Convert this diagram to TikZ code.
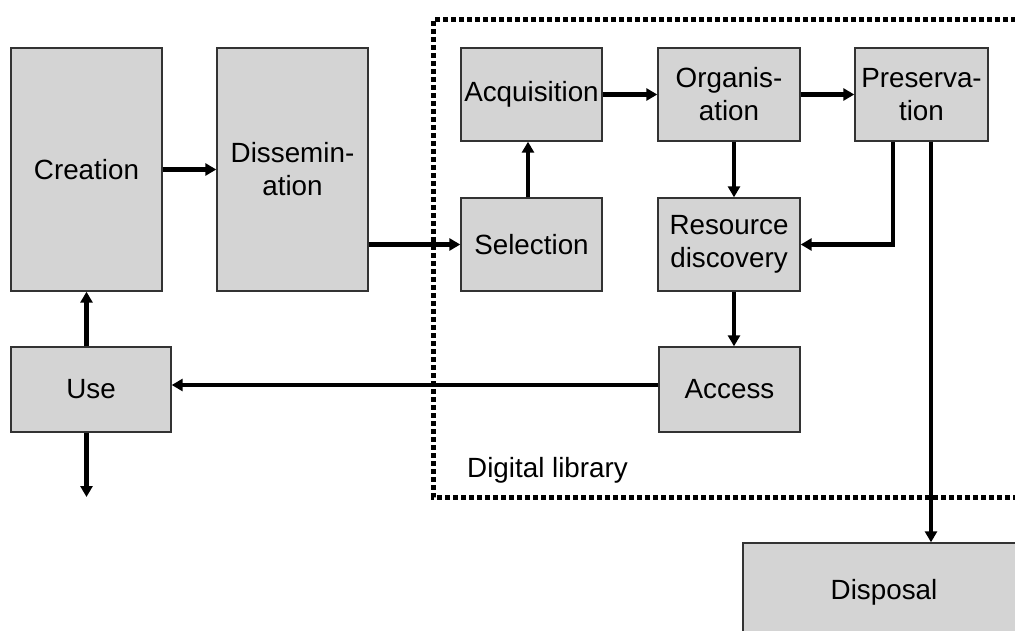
\documentclass[tikz,border=0pt]{standalone}
\usepackage{fontspec}
\setmainfont{Liberation Sans}
\usetikzlibrary{arrows.meta}
\definecolor{boxfill}{RGB}{212,212,212}
\definecolor{boxline}{RGB}{51,51,51}
\tikzset{
  stage/.style={draw=boxline, line width=1.4pt, fill=boxfill, align=center,
    inner sep=0pt, font=\fontsize{27.8}{33}\selectfont},
  flow/.style={line width=4.2pt, -{Triangle[length=11pt,width=12pt]}},
  libframe/.style={line width=5pt, dash pattern=on 5pt off 3pt},
}
\begin{document}
\begin{tikzpicture}[x=1pt,y=-1pt]
\clip (0,0) rectangle (1015,631);
\fill[white] (0,0) rectangle (1015,631);

% digital library boundary (open to the right)
\draw[libframe] (1040,20) -| (433,497) -- (1040,497);
\node[anchor=base west, font=\fontsize{27.8}{33}\selectfont, inner sep=0pt] (dl) at (467,477) {Digital library};

% stages
\node[stage, minimum width=151pt, minimum height=243pt] (cre) at (86.5,169.5) {Creation};
\node[stage, minimum width=151pt, minimum height=243pt] (dis) at (292.5,169.5) {Dissemin-\\ation};
\node[stage, minimum width=141pt, minimum height=93pt] (acq) at (531.5,94.5) {Acquisition};
\node[stage, minimum width=142pt, minimum height=93pt] (org) at (729,94.5) {Organis-\\ation};
\node[stage, minimum width=133pt, minimum height=93pt] (pre) at (921.5,94.5) {Preserva-\\tion};
\node[stage, minimum width=141pt, minimum height=93pt] (sel) at (531.5,244.5) {Selection};
\node[stage, minimum width=142pt, minimum height=93pt] (res) at (729,244.5) {Resource\\discovery};
\node[stage, minimum width=141pt, minimum height=85pt] (acc) at (729.5,389.5) {Access};
\node[stage, minimum width=160pt, minimum height=85pt] (use) at (91,389.5) {Use};
\node[stage, minimum width=282pt, minimum height=98pt] (disp) at (884,592) {Disposal};

\coordinate (out) at (86.5,497);

% flows
\draw[flow] (cre.east) -- (dis.west);
\draw[flow] (dis.east |- sel.west) -- (sel.west);
\draw[flow] ([xshift=-3.5pt]sel.north) -- ([xshift=-3.5pt]acq.south);
\draw[flow] (acq.east) -- (org.west);
\draw[flow] (org.east) -- (pre.west);
\draw[flow] ([xshift=5pt]org.south) -- ([xshift=5pt]res.north);
\draw[flow] ([xshift=-28.5pt]pre.south) |- (res.east);
\draw[flow] ([xshift=9.5pt]pre.south) -- ([xshift=9.5pt]pre.south |- disp.north);
\draw[flow] ([xshift=5pt]res.south) -- ([xshift=5pt]res.south |- acc.north);
\draw[flow] ([yshift=4.5pt]acc.west) -- ([yshift=4.5pt]acc.west -| use.east);
\draw[flow] (use.north -| cre.south) -- (cre.south);
\draw[flow] (use.south -| cre.south) -- (out);
\end{tikzpicture}
\end{document}
